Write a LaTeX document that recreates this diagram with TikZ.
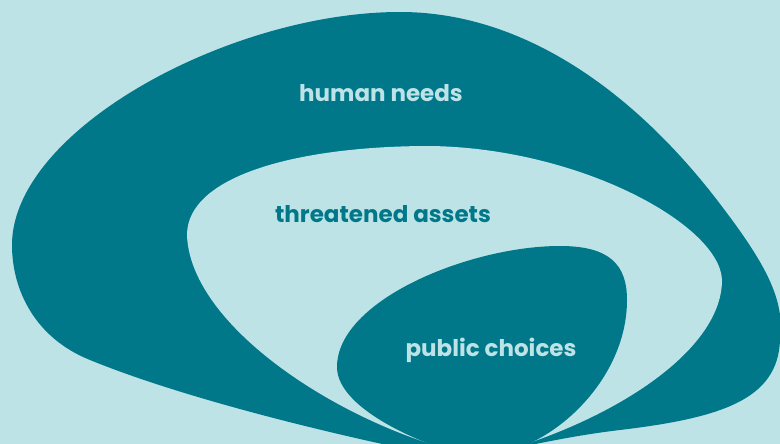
\documentclass[tikz,border=0pt]{standalone}
\usepackage{fontspec}
\setmainfont{Poppins}
\usetikzlibrary{positioning}

\definecolor{sea}{HTML}{00788A}
\definecolor{foam}{HTML}{BDE3E6}

\begin{document}
\begin{tikzpicture}[x=1pt, y=-1pt,
    every node/.style={font=\fontsize{23}{28}\selectfont\bfseries},
    dark/.style={fill=sea},
    light/.style={fill=foam},
    lbl/.style={anchor=base, inner sep=0pt}]

  \useasboundingbox (0,0) rectangle (780,444);
  \fill[light] (0,0) rectangle (780,444);
  \clip (0,0) rectangle (780,444);

  % outer ring
  \fill[dark] (400,12) .. controls (530,12) and (640,100) .. (717,200)
    .. controls (767,265) and (785,300) .. (780,340)
    .. controls (778,400) and (720,418) .. (620,430)
    .. controls (560,437) and (500,452) .. (460,460)
    .. controls (380,445) and (200,405) .. (90,360)
    .. controls (35,338) and (12,290) .. (12,245)
    .. controls (12,130) and (230,12) .. cycle;

  % middle hole
  \fill[light] (430,146) .. controls (580,148) and (720,225) .. (722,280)
    .. controls (722,345) and (630,410) .. (520,446)
    .. controls (495,458) and (460,458) .. (437,446)
    .. controls (320,410) and (190,320) .. (187,235)
    .. controls (187,175) and (300,146) .. cycle;

  % inner drop
  \fill[dark] (337,367) .. controls (337,300) and (470,246) .. (560,246)
    .. controls (610,246) and (627,265) .. (627,300)
    .. controls (627,370) and (570,430) .. (518,448)
    .. controls (500,456) and (460,456) .. (440,448)
    .. controls (390,430) and (337,400) .. cycle;

  \node[lbl, text=foam] (needs) at (381,102) {human needs};
  \node[lbl, text=sea] (assets) at (383,222) {threatened assets};
  \node[lbl, text=foam] (choices) at (491,356) {public choices};
\end{tikzpicture}
\end{document}
